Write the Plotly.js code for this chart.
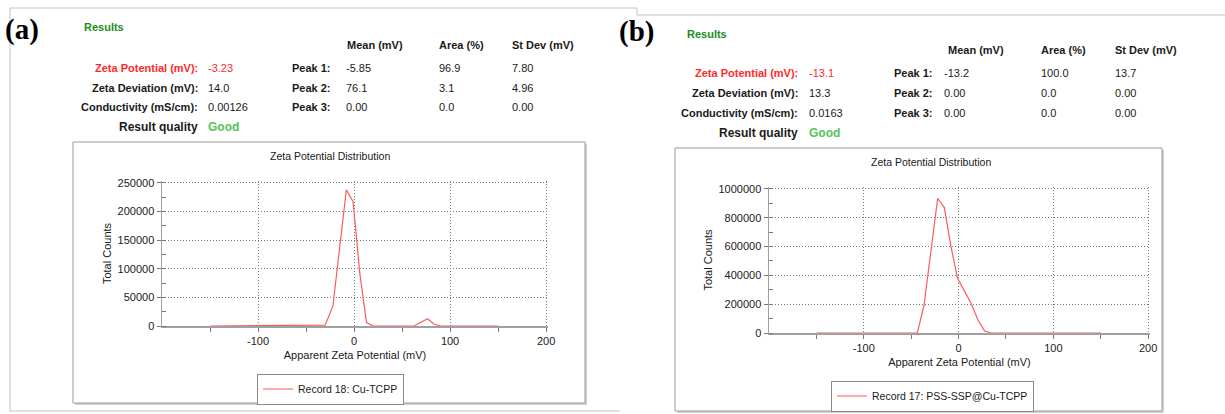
<!DOCTYPE html>
<html>
<head>
<meta charset="utf-8">
<script src="https://cdn.plot.ly/plotly-3.0.1.min.js"></script>
<style>
html,body{margin:0;padding:0;background:#fff;}
#chart{width:1225px;height:414px;}
</style>
</head>
<body>
<div id="chart"></div>
<script>
// ---------- data ----------
const potentialA = [-150, -30, -22, -15, -8, -1, 6, 13, 20, 62.5, 69.5, 76.5, 83.5, 90.5, 150];
const countsA    = [0, 1500, 35000, 135000, 238000, 217000, 92000, 6000, 0, 0, 6000, 12500, 3000, 0, 0];
const potentialB = [-150, -43.5, -36.5, -29.5, -22, -15, -8, -1, 6, 12.5, 20.5, 27.5, 34, 150];
const countsB    = [0, 0, 190000, 560000, 935000, 870000, 600000, 378000, 295000, 216000, 90000, 14000, 0, 0];
const seriesNameA = "Record 18: Cu-TCPP";
const seriesNameB = "Record 17: PSS-SSP@Cu-TCPP";
const xTickVals = [-100, 0, 100, 200];
const xTickText = ["-100", "0", "100", "200"];
const panelTags = ["(a)", "(b)"];
const resultLabels = ["Zeta Potential (mV):", "Zeta Deviation (mV):", "Conductivity (mS/cm):", "Result quality"];
const resultValuesA = ["-3.23", "14.0", "0.00126", "Good"];
const resultValuesB = ["-13.1", "13.3", "0.0163", "Good"];
const peakHeaders = ["Mean (mV)", "Area (%)", "St Dev (mV)"];
const peakLabels = ["Peak 1:", "Peak 2:", "Peak 3:"];
const peaksA = [["-5.85", "96.9", "7.80"], ["76.1", "3.1", "4.96"], ["0.00", "0.0", "0.00"]];
const peaksB = [["-13.2", "100.0", "13.7"], ["0.00", "0.0", "0.00"], ["0.00", "0.0", "0.00"]];
const chartTitle = "Zeta Potential Distribution";
const xTitle = "Apparent Zeta Potential (mV)";
const yTitle = "Total Counts";

// ---------- layout helpers ----------
const W = 1225, H = 414;
const px = x => x / W;
const py = y => 1 - y / H;
const FONT = "Liberation Sans, Arial, sans-serif";
const RED = "#ff2a2a", DGREEN = "#1e8c1e", LGREEN = "#55c455", TXT = "#1a1a1a";
const FS = 11;

function txt(x, y, text, opts) {
  opts = opts || {};
  return {
    xref: "paper", yref: "paper", x: px(x), y: py(y), text: text, showarrow: false,
    xanchor: opts.anchor || "left", yanchor: "middle",
    font: {family: opts.family || FONT, size: opts.size || FS, color: opts.color || TXT}
  };
}
function b(s) { return "<b>" + s + "</b>"; }

function panelText(p) {
  const a = [];
  a.push(txt(p.tagX, p.tagY, b(p.tag), {anchor: "center", family: "Liberation Serif, Times New Roman, serif", size: 29, color: "#000"}));
  a.push(txt(p.resX, p.resY, b("Results"), {color: DGREEN}));
  peakHeaders.forEach((h, i) => a.push(txt(p.peakCols[i], p.headY, b(h))));
  resultLabels.forEach((l, i) => {
    const isZeta = i === 0, isQ = i === 3;
    a.push(txt(p.labRight, p.rows[i], b(l), {anchor: "right", color: isZeta ? RED : TXT, size: isQ ? 12 : FS}));
    a.push(txt(p.valLeft, p.rows[i], isQ ? b(p.values[i]) : p.values[i], {color: isZeta ? RED : (isQ ? LGREEN : TXT), size: isQ ? 12 : FS}));
  });
  peakLabels.forEach((l, i) => {
    a.push(txt(p.peakLabRight, p.rows[i], b(l), {anchor: "right"}));
    p.peaks[i].forEach((v, j) => a.push(txt(p.peakVals[j], p.rows[i], v)));
  });
  a.push(txt(p.titleX, p.titleY, chartTitle, {anchor: "center", size: 10.5}));
  return a;
}

const annotations = []
  .concat(panelText({tag: panelTags[0], tagX: 22, tagY: 30, resX: 82, resY: 27, headY: 45,
    peakCols: [345, 437, 510], rows: [68, 88, 107, 127], labRight: 200, valLeft: 206,
    values: resultValuesA, peakLabRight: 333, peakVals: [344, 437, 510], peaks: peaksA,
    titleX: 330, titleY: 156}))
  .concat(panelText({tag: panelTags[1], tagX: 636, tagY: 31, resX: 685, resY: 34, headY: 50,
    peakCols: [946, 1039, 1113], rows: [73, 93, 113, 133], labRight: 800, valLeft: 807,
    values: resultValuesB, peakLabRight: 935, peakVals: [942, 1039, 1113], peaks: peaksB,
    titleX: 931, titleY: 162}));

function line(x0, y0, x1, y1, color, w) {
  return {type: "line", xref: "paper", yref: "paper", x0: px(x0), y0: py(y0), x1: px(x1), y1: py(y1),
    line: {color: color || "#c4c4c4", width: w || 1}, layer: "below"};
}
function rect(x0, y0, x1, y1) {
  return [
    {type: "rect", xref: "paper", yref: "paper", x0: px(x0 + 2), y0: py(y1 + 2), x1: px(x1 + 2), y1: py(y0 + 2),
      line: {width: 0}, fillcolor: "#d0d0d0", layer: "below"},
    {type: "rect", xref: "paper", yref: "paper", x0: px(x0), y0: py(y1), x1: px(x1), y1: py(y0),
      line: {color: "#9a9a9a", width: 1}, fillcolor: "#ffffff", layer: "below"}
  ];
}
const shapes = [
  line(10, 8, 10, 412), line(10, 8, 637, 8), line(637, 8, 637, 15), line(637, 15, 1225, 15),
  line(10, 411, 620, 411)
].concat(rect(73, 142, 585, 403)).concat(rect(675, 148, 1162, 411));

const GRID = {showgrid: true, gridcolor: "#7a7a7a", griddash: "1px,2px", gridwidth: 1};

function xAxis(domain, anchor) {
  return Object.assign({
    domain: domain, anchor: anchor, range: [-200, 202], fixedrange: true,
    tickmode: "array", tickvals: xTickVals, ticktext: xTickText,
    zeroline: false, showline: true, linecolor: "#a0a0a0", linewidth: 2,
    ticks: "outside", ticklen: 4, tickcolor: "#777", tickwidth: 1,
    minor: {tickmode: "linear", tick0: -150, dtick: 100, ticks: "outside", ticklen: 4, tickcolor: "#777", showgrid: false},
    tickfont: {family: FONT, size: FS, color: TXT},
    title: {text: xTitle, font: {family: FONT, size: FS, color: TXT}, standoff: 5}
  }, GRID);
}
function yAxis(domain, anchor, maxV, dt) {
  return Object.assign({
    domain: domain, anchor: anchor, range: [0, maxV * 1.013], dtick: dt, tick0: 0, fixedrange: true,
    zeroline: false, showline: true, linecolor: "#a0a0a0", linewidth: 1.5,
    ticks: "outside", ticklen: 4, tickcolor: "#777",
    minor: {dtick: dt / 2, ticks: "inside", ticklen: 4, tickcolor: "#777", showgrid: false},
    tickformat: "d",
    tickfont: {family: FONT, size: FS, color: TXT},
    title: {text: yTitle, font: {family: FONT, size: FS, color: TXT}, standoff: 3}
  }, GRID);
}

const traces = [
  {x: potentialA, y: countsA, xaxis: "x", yaxis: "y", type: "scatter", mode: "lines", name: seriesNameA,
    line: {color: "#ff5a5a", width: 1.2}, legend: "legend", hoverinfo: "skip"},
  {x: potentialB, y: countsB, xaxis: "x2", yaxis: "y2", type: "scatter", mode: "lines", name: seriesNameB,
    line: {color: "#ff5a5a", width: 1.2}, legend: "legend2", hoverinfo: "skip"}
];

function legendAt(x, yc) {
  return {x: px(x), y: py(yc), xanchor: "left", yanchor: "middle", bgcolor: "#fff",
    bordercolor: "#8a8a8a", borderwidth: 1, font: {family: FONT, size: 10.5, color: TXT},
    itemwidth: 30, tracegroupgap: 0};
}

const layout = {
  width: W, height: H, margin: {l: 0, r: 0, t: 0, b: 0},
  paper_bgcolor: "#fff", plot_bgcolor: "rgba(0,0,0,0)",
  showlegend: true,
  xaxis: xAxis([px(162), px(548)], "y"),
  yaxis: yAxis([py(326), py(181)], "x", 250000, 50000),
  xaxis2: xAxis([px(769), px(1150)], "y2"),
  yaxis2: yAxis([py(333), py(187)], "x2", 1000000, 200000),
  legend: legendAt(257, 389),
  legend2: legendAt(831, 396),
  annotations: annotations,
  shapes: shapes
};

Plotly.newPlot("chart", traces, layout, {staticPlot: true, displayModeBar: false});
</script>
</body>
</html>
